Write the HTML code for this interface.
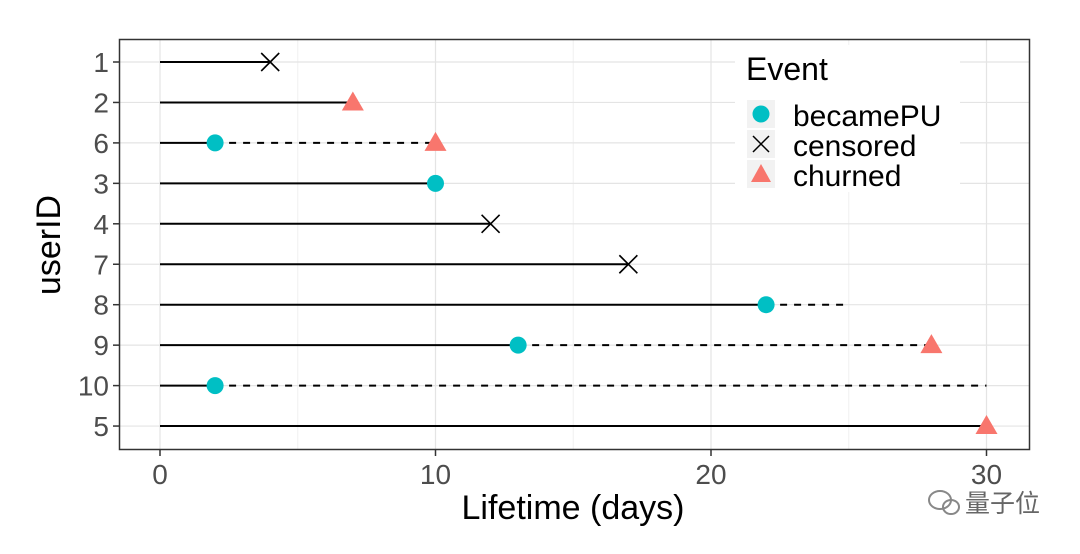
<!DOCTYPE html>
<html><head><meta charset="utf-8"><style>
html,body{margin:0;padding:0;background:#fff;}
svg text{font-family:"Liberation Sans","Noto Sans CJK SC",sans-serif;}
</style></head><body>
<svg id="chart" width="1080" height="549" viewBox="0 0 1080 549" xmlns="http://www.w3.org/2000/svg">
<rect x="0" y="0" width="1080" height="549" fill="#fff"/>
<g id="grid"></g>
<g id="marks"></g>
<rect x="119.5" y="39.5" width="910" height="410" fill="none" stroke="#333" stroke-width="1.5"/>
<g id="axes"></g>
<text x="573" y="519" font-size="34" text-anchor="middle" fill="#000">Lifetime (days)</text>
<text transform="translate(60,245) rotate(-90)" font-size="34" text-anchor="middle" fill="#000">userID</text>
<g>
<rect x="735" y="45" width="225" height="147" fill="#fff"/>
<text x="746" y="80" font-size="32" fill="#000">Event</text>
<rect x="747" y="100" width="28" height="28" fill="#f2f2f2"/>
<rect x="747" y="130" width="28" height="28" fill="#f2f2f2"/>
<rect x="747" y="160" width="28" height="28" fill="#f2f2f2"/>
<circle cx="761" cy="114" r="8.5" fill="#00BFC4"/>
<path d="M753 136 L769 152 M769 136 L753 152" stroke="#000" stroke-width="1.5"/>
<path d="M761 164 L771 182 L751 182 Z" fill="#F8766D"/>
<text x="793" y="126" font-size="30" fill="#000">becamePU</text>
<text x="793" y="156" font-size="30" fill="#000">censored</text>
<text x="793" y="186" font-size="30" fill="#000">churned</text>
</g>
<g>
<ellipse cx="940" cy="500" rx="11" ry="9" fill="none" stroke="#888" stroke-width="2"/>
<ellipse cx="951" cy="507" rx="8" ry="7" fill="none" stroke="#888" stroke-width="2"/>
<text x="965" y="512" font-size="25" fill="#666">量子位</text>
</g>
</svg>
<script>
const users=["1","2","6","3","4","7","8","9","10","5"];
const solidEnd=[4,7,2,10,12,17,22,13,2,30];
const dashEnd=[null,null,10,null,null,null,25,28,30,null];
const puTime=[null,null,2,10,null,null,22,13,2,null];
const endEvent=["censored","churned","churned",null,"censored","censored",null,"churned",null,"churned"];
const endTime=[4,7,10,null,12,17,null,28,null,30];
const xTicks=[0,10,20,30];
const NS="http://www.w3.org/2000/svg";
const xs=v=>160+v*27.55;
const ys=i=>62+i*40.45;
function mk(tag,attrs,parent){const e=document.createElementNS(NS,tag);for(const k in attrs)e.setAttribute(k,attrs[k]);document.getElementById(parent).appendChild(e);return e;}
[5,15,25].forEach(v=>{mk('line',{x1:xs(v),x2:xs(v),y1:40,y2:449,stroke:'#f0f0f0','stroke-width':1},'grid');});
xTicks.forEach(v=>{const l=mk('line',{x1:xs(v),x2:xs(v),y1:40,y2:449,stroke:'#e4e4e4','stroke-width':1.2},'grid');

});
users.forEach((u,i)=>{const l=mk('line',{x1:120,x2:1029,y1:ys(i),y2:ys(i),stroke:'#e4e4e4','stroke-width':1.2},'grid');

});
xTicks.forEach(v=>{mk('line',{x1:xs(v),x2:xs(v),y1:450,y2:456,stroke:'#333','stroke-width':1.5},'axes');
const t=mk('text',{x:xs(v),y:484,'font-size':28,'text-anchor':'middle',fill:'#4d4d4d'},'axes');t.textContent=v;

});
users.forEach((u,i)=>{mk('line',{x1:113,x2:119,y1:ys(i),y2:ys(i),stroke:'#333','stroke-width':1.5},'axes');
const t=mk('text',{x:109,y:ys(i)+10,'font-size':28,'text-anchor':'end',fill:'#4d4d4d'},'axes');t.textContent=u;

});
users.forEach((u,i)=>{const y=ys(i);
const s=mk('line',{x1:xs(0),x2:xs(solidEnd[i]),y1:y,y2:y,stroke:'#000','stroke-width':2},'marks');


if(dashEnd[i]!=null){const d=mk('line',{x1:xs(solidEnd[i]),x2:xs(dashEnd[i]),y1:y,y2:y,stroke:'#000','stroke-width':2,'stroke-dasharray':'7,7'},'marks');

}
if(endTime[i]!=null){const x=xs(endTime[i]);
if(endEvent[i]==='censored'){const p=mk('path',{d:`M${x-9} ${y-9} L${x+9} ${y+9} M${x+9} ${y-9} L${x-9} ${y+9}`,stroke:'#000','stroke-width':1.6,fill:'none'},'marks');

}
else{const p=mk('path',{d:`M${x} ${y-11} L${x+11} ${y+8} L${x-11} ${y+8} Z`,fill:'#F8766D'},'marks');

}}
if(puTime[i]!=null){const c=mk('circle',{cx:xs(puTime[i]),cy:y,r:8.5,fill:'#00BFC4'},'marks');

}
});
</script>
</body></html>
